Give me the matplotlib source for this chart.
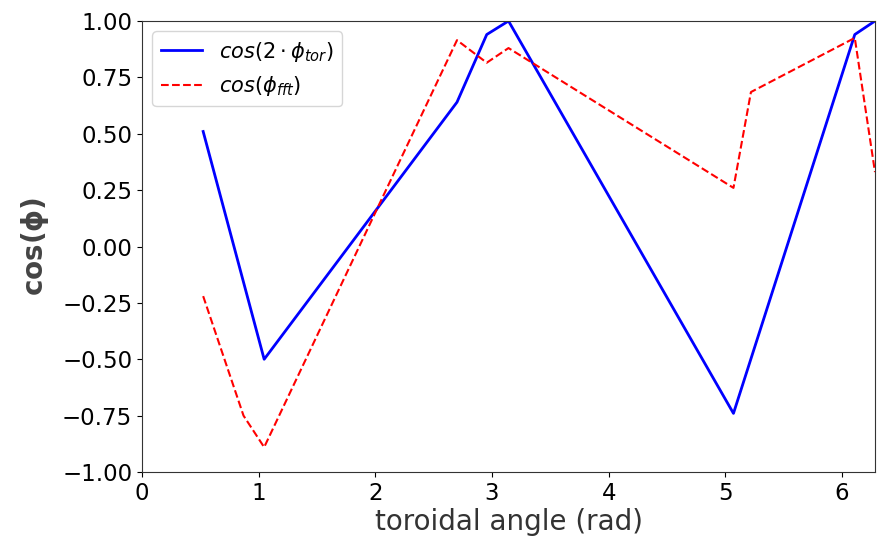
import numpy as np
import matplotlib
matplotlib.use('Agg')
import matplotlib.pyplot as plt

# toroidal angle positions (rad)
phi_tor = [0.524, 1.047, 2.70, 2.955, 3.1416, 5.07, 6.11, 6.2832]
cos_tor = [0.51, -0.50, 0.64, 0.94, 1.00, -0.74, 0.94, 1.00]

phi_fft_x = [0.524, 0.87, 1.047, 2.70, 2.955, 3.1416, 5.07, 5.22, 6.11, 6.2832]
cos_fft = [-0.22, -0.75, -0.89, 0.915, 0.815, 0.88, 0.26, 0.685, 0.925, 0.33]

y_ticks = [-1.00, -0.75, -0.50, -0.25, 0.00, 0.25, 0.50, 0.75, 1.00]
x_ticks = [0, 1, 2, 3, 4, 5, 6]

fig = plt.figure(figsize=(8.8, 5.37), dpi=100)
ax = fig.add_axes([0.1614, 0.121, 0.9943 - 0.1614, 0.9609 - 0.121])

ax.plot(phi_tor, cos_tor, color='b', lw=2, label=r'$cos(2 \cdot \phi_{tor})$')
ax.plot(phi_fft_x, cos_fft, color='r', ls='--', lw=1.5, label=r'$cos(\phi_{fft})$')

ax.set_xlim(0, 2 * np.pi)
ax.set_ylim(-1, 1)
ax.set_xticks(x_ticks)
ax.set_yticks(y_ticks)
ax.set_yticklabels(['%.2f' % v if v >= 0 else '\u2212%.2f' % -v for v in y_ticks])
ax.tick_params(labelsize=16.5)

ax.set_xlabel('toroidal angle (rad)', fontsize=20, color='#333333', labelpad=2)
ax.set_ylabel(r'cos($\mathbf{\phi}$)', fontsize=20, fontweight='bold', color='#444444', labelpad=8)

for s in ax.spines.values():
    s.set_color('#333333')

ax.legend(loc='upper left', fontsize=15)

fig.savefig('out.png', dpi=100)
